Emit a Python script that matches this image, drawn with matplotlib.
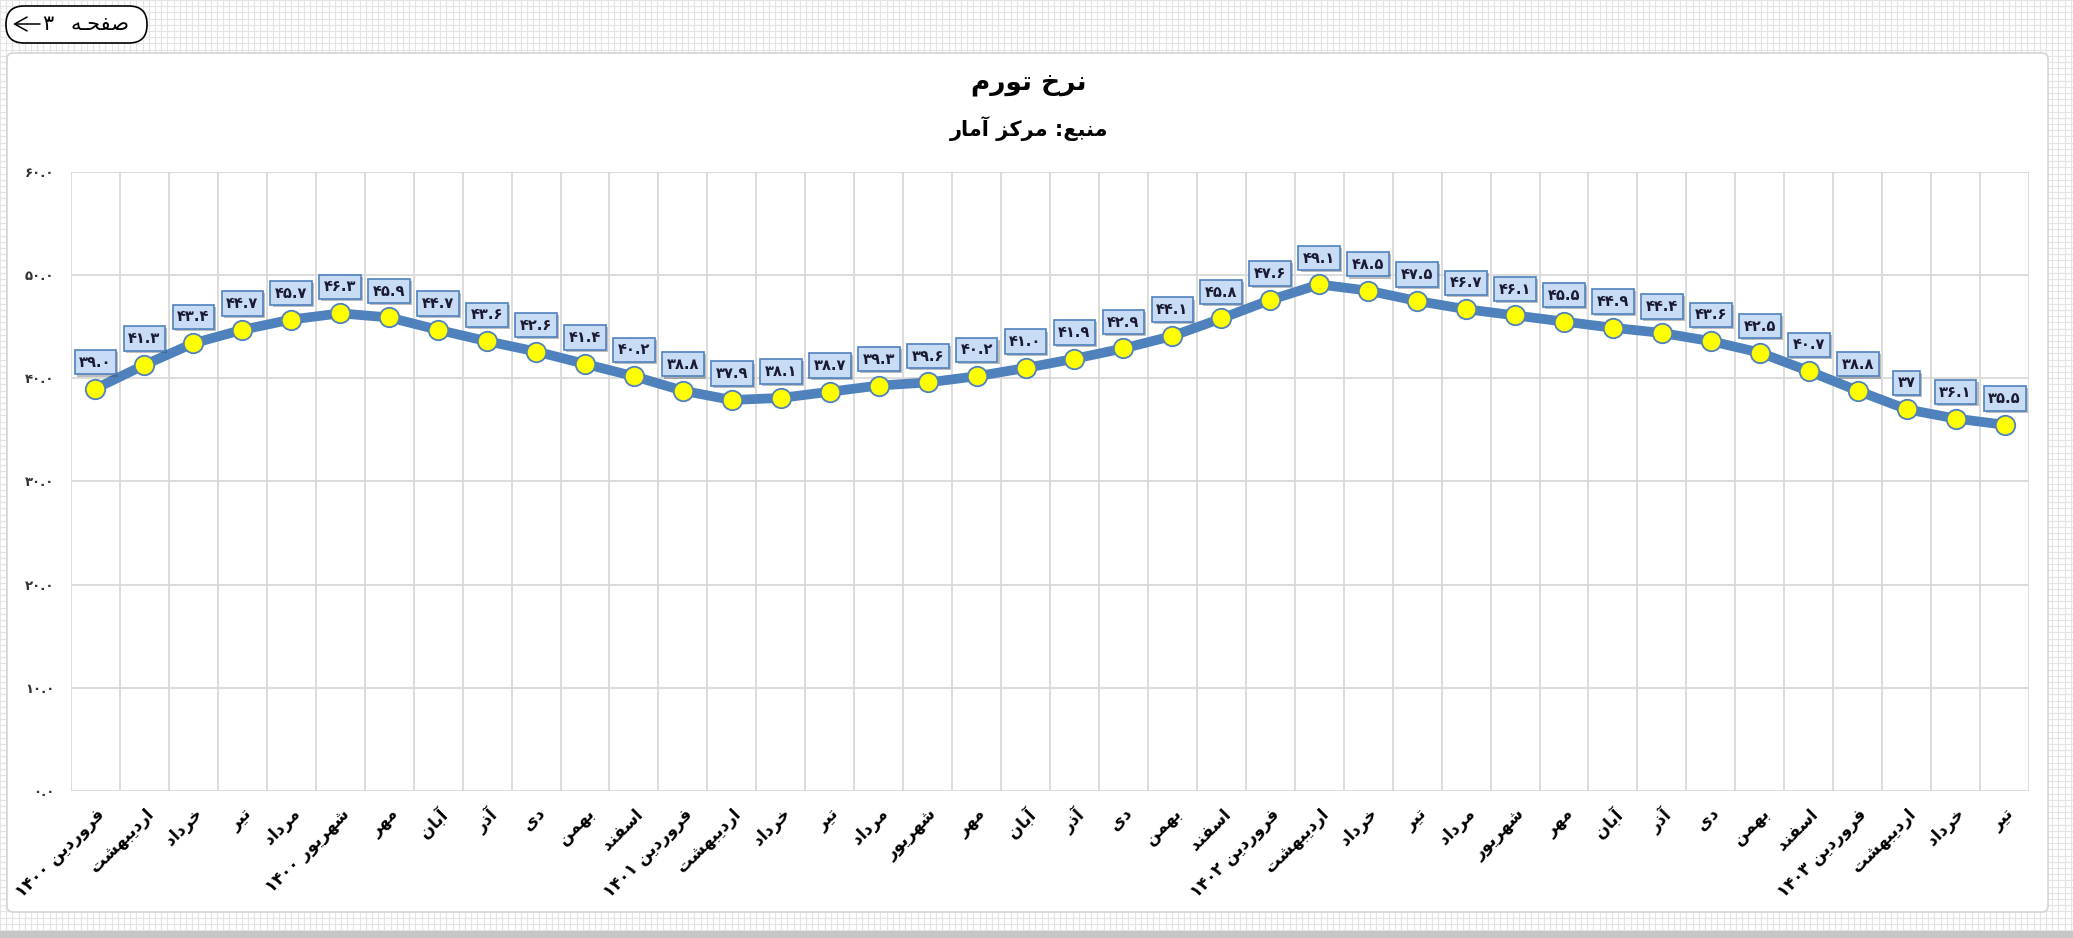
import numpy as np
import matplotlib
matplotlib.use('Agg')
import matplotlib.pyplot as plt
from matplotlib import font_manager
from matplotlib.font_manager import FontProperties
from matplotlib.ft2font import FT2Font
from matplotlib.patches import FancyBboxPatch, Rectangle
import matplotlib.patheffects as pe

# data
months = ['فروردین ۱۴۰۰', 'اردیبهشت', 'خرداد', 'تیر', 'مرداد', 'شهریور ۱۴۰۰',
          'مهر', 'آبان', 'آذر', 'دی', 'بهمن', 'اسفند',
          'فروردین ۱۴۰۱', 'اردیبهشت', 'خرداد', 'تیر', 'مرداد', 'شهریور',
          'مهر', 'آبان', 'آذر', 'دی', 'بهمن', 'اسفند',
          'فروردین ۱۴۰۲', 'اردیبهشت', 'خرداد', 'تیر', 'مرداد', 'شهریور',
          'مهر', 'آبان', 'آذر', 'دی', 'بهمن', 'اسفند',
          'فروردین ۱۴۰۳', 'اردیبهشت', 'خرداد', 'تیر']
inflation = [39.0, 41.3, 43.4, 44.7, 45.7, 46.3, 45.9, 44.7, 43.6, 42.6, 41.4, 40.2,
             38.8, 37.9, 38.1, 38.7, 39.3, 39.6, 40.2, 41.0, 41.9, 42.9, 44.1, 45.8,
             47.6, 49.1, 48.5, 47.5, 46.7, 46.1, 45.5, 44.9, 44.4, 43.6, 42.5, 40.7,
             38.8, 37, 36.1, 35.5]
yticks = [0, 10, 20, 30, 40, 50, 60]
title = 'نرخ تورم'
subtitle = 'منبع: مرکز آمار'
page_text = 'صفحـه'

# --- minimal persian shaping (matplotlib does no shaping / bidi) ---
FORMS = {
    '\u0627': ('\uFE8D', '\uFE8E', None, None),
    '\u0622': ('\uFE81', '\uFE82', None, None),
    '\u062F': ('\uFEA9', '\uFEAA', None, None),
    '\u0630': ('\uFEAB', '\uFEAC', None, None),
    '\u0631': ('\uFEAD', '\uFEAE', None, None),
    '\u0632': ('\uFEAF', '\uFEB0', None, None),
    '\u0648': ('\uFEED', '\uFEEE', None, None),
    '\u0628': ('\uFE8F', '\uFE90', '\uFE91', '\uFE92'),
    '\u062A': ('\uFE95', '\uFE96', '\uFE97', '\uFE98'),
    '\u062D': ('\uFEA1', '\uFEA2', '\uFEA3', '\uFEA4'),
    '\u062E': ('\uFEA5', '\uFEA6', '\uFEA7', '\uFEA8'),
    '\u0633': ('\uFEB1', '\uFEB2', '\uFEB3', '\uFEB4'),
    '\u0634': ('\uFEB5', '\uFEB6', '\uFEB7', '\uFEB8'),
    '\u0635': ('\uFEB9', '\uFEBA', '\uFEBB', '\uFEBC'),
    '\u0639': ('\uFEC9', '\uFECA', '\uFECB', '\uFECC'),
    '\u0641': ('\uFED1', '\uFED2', '\uFED3', '\uFED4'),
    '\u0645': ('\uFEE1', '\uFEE2', '\uFEE3', '\uFEE4'),
    '\u0646': ('\uFEE5', '\uFEE6', '\uFEE7', '\uFEE8'),
    '\u0647': ('\uFEE9', '\uFEEA', '\uFEEB', '\uFEEC'),
    '\u06CC': ('\uFBFC', '\uFBFD', '\uFBFE', '\uFBFF'),
    '\u06A9': ('\uFB8E', '\uFB8F', '\uFB90', '\uFB91'),
    '\u0640': ('\u0640', '\u0640', '\u0640', '\u0640'),
}

bold_path = font_manager.findfont(FontProperties(family='DejaVu Sans', weight='bold'))
cmap = FT2Font(bold_path).get_charmap()
if 0xFBFC not in cmap:
    FORMS['\u06CC'] = ('\uFEEF', '\uFEF0', '\uFEF3', '\uFEF4')
if 0xFB8E not in cmap:
    FORMS['\u06A9'] = ('\uFED9', '\uFEDA', '\uFEDB', '\uFEDC')


def shape(word):
    out = []
    for i, c in enumerate(word):
        if c not in FORMS:
            out.append(c)
            continue
        f = FORMS[c]
        prev_j = i > 0 and word[i-1] in FORMS and FORMS[word[i-1]][2] is not None
        next_j = f[2] is not None and i+1 < len(word) and word[i+1] in FORMS
        if prev_j and next_j:
            out.append(f[3])
        elif prev_j:
            out.append(f[1])
        elif next_j:
            out.append(f[2])
        else:
            out.append(f[0])
    return ''.join(out)


def fa(text):
    toks = text.split(' ')
    vis = []
    for t in toks:
        if any(ch in FORMS for ch in t):
            vis.append(shape(t)[::-1])
        else:
            vis.append(t)
    return ' '.join(reversed(vis))


def fa_num(s):
    return s.translate(str.maketrans('0123456789', '۰۱۲۳۴۵۶۷۸۹'))


W, H = 2073, 938
fig = plt.figure(figsize=(W/100, H/100), dpi=100)
fig.patch.set_facecolor('white')

# background: grid paper, panel, button
bg = fig.add_axes([0, 0, 1, 1], zorder=-10)
bg.set_xlim(0, W)
bg.set_ylim(H, 0)
bg.axis('off')
step = 6.2
bg.vlines(np.arange(0, W, step), 0, H, colors='#e4e4e4', lw=0.8)
bg.hlines(np.arange(0, H, step), 0, W, colors='#e4e4e4', lw=0.8)
bg.add_patch(Rectangle((0, 931), W, 8, facecolor='#c6c6c6', edgecolor='none', zorder=2))
bg.add_patch(FancyBboxPatch((7, 53), 2041, 859, boxstyle='round,pad=0,rounding_size=6',
                            facecolor='white', edgecolor='#d4d4d4', lw=1.2, zorder=3))
bg.add_patch(FancyBboxPatch((6, 6), 141, 37, boxstyle='round,pad=0,rounding_size=18',
                            facecolor='white', edgecolor='black', lw=1.2, zorder=3))
bg.annotate('', xy=(13, 24), xytext=(40, 24),
            arrowprops=dict(arrowstyle='->,head_length=0.9,head_width=0.5', lw=1.1,
                            color='black', shrinkA=0, shrinkB=0), zorder=4)
bg.text(48, 24, '۳', ha='center', va='center', fontsize=15, family='DejaVu Sans', zorder=4)
bg.text(100, 24, fa(page_text), ha='center', va='center',
        fontsize=15, family='DejaVu Sans', zorder=4)

fig.text(1029/W, 1 - 83/H, fa(title), ha='center', va='center',
         fontsize=19, fontweight='bold', family='DejaVu Sans')
fig.text(1029/W, 1 - 129/H, fa(subtitle), ha='center', va='center',
         fontsize=15, fontweight='bold', family='DejaVu Sans')

ax = fig.add_axes([71/W, 1 - 791/H, (2029-71)/W, (791-172)/H])
ax.set_facecolor('none')
x = np.arange(len(months))
ax.plot(x, inflation, color='#4f81bd', lw=7, solid_joinstyle='round', zorder=3)
ax.plot(x, inflation, 'o', ms=14, mfc='#ffff00', mec='#4f81bd', mew=1.3, zorder=4)

for xi, v in zip(x, inflation):
    t = ax.annotate(fa_num(str(v)), (xi, v), xytext=(0, 19), textcoords='offset points',
                    ha='center', va='center', fontsize=10.5, fontweight='bold',
                    color='#1a1a33', zorder=5,
                    bbox=dict(boxstyle='square,pad=0.32', fc='#c9dcf5', ec='#4f81bd', lw=1.2))
    t.get_bbox_patch().set_path_effects([pe.SimplePatchShadow(offset=(1.5, -1.5), alpha=0.35),
                                          pe.Normal()])

ax.set_xlim(-0.5, len(months) - 0.5)
ax.set_ylim(0, 60)
ax.set_yticks(yticks)
ax.set_yticklabels([fa_num('%.1f' % v) for v in yticks], fontsize=9.5, fontweight='bold',
                   color='#333333')
ax.set_xticks(x)
ax.set_xticklabels([fa(m) for m in months], rotation=45, ha='right', va='top',
                   rotation_mode='anchor', fontsize=12, fontweight='bold')
ax.set_xticks(np.arange(-0.5, len(months)), minor=True)
ax.tick_params(axis='both', which='both', length=0)
ax.tick_params(axis='y', pad=12)
ax.tick_params(axis='x', pad=10)
ax.grid(axis='y', which='major', color='#d9d9d9', lw=1.3)
ax.grid(axis='x', which='minor', color='#d9d9d9', lw=1.3)
ax.grid(axis='x', which='major', visible=False)
for s in ax.spines.values():
    s.set_visible(False)

fig.savefig('out.png', dpi=100, facecolor='white')
